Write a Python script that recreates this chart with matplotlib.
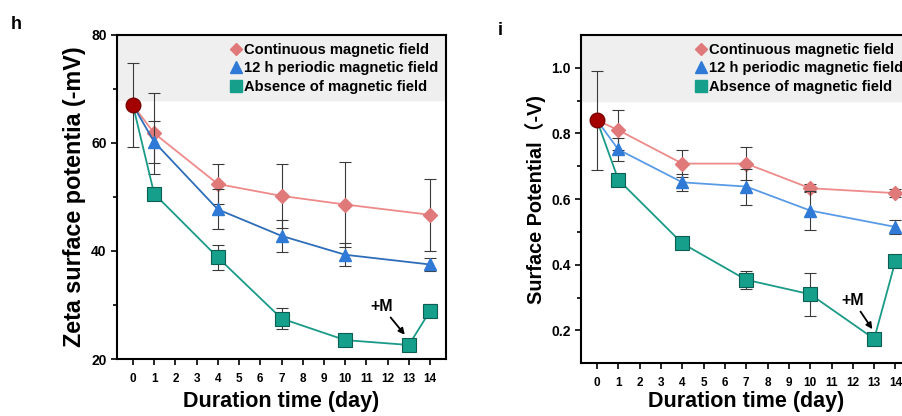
import matplotlib
matplotlib.use('Agg')
import matplotlib.pyplot as plt
from matplotlib.lines import Line2D

plt.rcParams['font.family'] = ['Liberation Sans', 'Noto Sans CJK SC', 'DejaVu Sans']
plt.rcParams['font.weight'] = 'bold'

# day 0 shared starting point
start_h = 67.0
start_h_err = 7.8
start_i = 0.84
start_i_err = 0.15

# panel h: zeta surface potential (-mV)
days_cont = [0, 1, 4, 7, 10, 14]
days_abs = [0, 1, 4, 7, 10, 13, 14]
h_cont = [67.0, 61.8, 52.4, 50.2, 48.6, 46.7]
h_cont_err = [0, 7.5, 3.7, 5.9, 7.8, 6.7]
h_per = [67.0, 60.2, 47.7, 42.8, 39.3, 37.5]
h_per_err = [0, 3.9, 3.7, 3.0, 2.1, 1.2]
h_abs = [67.0, 50.6, 38.8, 27.5, 23.5, 22.6, 28.9]
h_abs_err = [0, 0.9, 2.3, 1.9, 1.0, 0.8, 1.2]

# panel i: surface potential (-V)
i_cont = [0.84, 0.81, 0.708, 0.708, 0.633, 0.618]
i_cont_err = [0, 0.062, 0.04, 0.05, 0.012, 0.012]
i_per = [0.84, 0.751, 0.651, 0.638, 0.565, 0.515]
i_per_err = [0, 0.035, 0.025, 0.055, 0.06, 0.022]
i_abs = [0.84, 0.659, 0.465, 0.354, 0.31, 0.174, 0.412]
i_abs_err = [0, 0.008, 0.008, 0.027, 0.065, 0.01, 0.015]

labels = ['Continuous magnetic field', '12 h periodic magnetic field', 'Absence of magnetic field']
day_ticks = list(range(15))

fig = plt.figure(figsize=(9.03, 4.16), dpi=100)
ax1 = fig.add_axes([0.1296, 0.137, 0.3643, 0.779])
ax2 = fig.add_axes([0.6434, 0.127, 0.366, 0.789])


def draw(ax, cont, cont_err, per, per_err, absn, absn_err, start, start_err,
         per_color, band, ylim, yticks, minor, ylabel, ylsize, xpad, m_text, m_tip):
    ax.axhspan(band, ylim[1], color='#efefef', zorder=0)
    ekw = dict(ecolor='#3a3a3a', elinewidth=0.8, capsize=4, capthick=0.8)
    ax.errorbar(days_cont, cont, yerr=cont_err, color='#ee8a8a', lw=1.3,
                marker='D', ms=7.5, mfc='#e07a7a', mec='#e07a7a', markevery=slice(1, None),
                zorder=3, **ekw)
    ax.errorbar(days_cont, per, yerr=per_err, color=per_color, lw=1.3,
                marker='^', ms=9, mfc='#2f7ad6', mec='#2f7ad6', markevery=slice(1, None),
                zorder=4, **ekw)
    ax.errorbar(days_abs, absn, yerr=absn_err, color='#1b9a88', lw=1.3,
                marker='s', ms=10, mfc='#16a08c', mec='#0c5e52', mew=0.8,
                markevery=slice(1, None), zorder=5, **ekw)
    ax.errorbar([0], [start], yerr=[start_err], fmt='o', ms=10.5, mfc='#a50000',
                mec='#7a0000', zorder=6, **ekw)
    ax.set_xlim(-0.75, 14.75)
    ax.set_ylim(*ylim)
    ax.set_xticks(day_ticks)
    ax.set_yticks(yticks)
    ax.set_yticks(minor, minor=True)
    ax.tick_params(axis='x', labelsize=8.5, length=4, width=1.2, pad=6)
    ax.tick_params(axis='y', labelsize=10, length=4, width=1.2)
    ax.tick_params(axis='y', which='minor', length=3, width=1.2)
    for s in ax.spines.values():
        s.set_linewidth(1.5)
    ax.set_xlabel('Duration time (day)', fontsize=15.5, fontweight='bold', labelpad=xpad)
    ax.set_ylabel(ylabel, fontsize=ylsize, fontweight='bold', labelpad=4)
    ax.annotate('+M', xy=m_tip, xytext=m_text, fontsize=11.5, fontweight='bold',
                ha='center', va='center',
                arrowprops=dict(arrowstyle='-|>', mutation_scale=9, color='black', lw=1.3,
                                shrinkA=1, shrinkB=1))
    handles = [
        Line2D([], [], ls='none', marker='D', ms=6.5, color='#e07a7a'),
        Line2D([], [], ls='none', marker='^', ms=8, color='#2f7ad6'),
        Line2D([], [], ls='none', marker='s', ms=8, color='#16a08c'),
    ]
    ax.legend(handles, labels, loc='upper right', frameon=False,
              handlelength=0.7, handletextpad=0.2, borderaxespad=0.35,
              labelspacing=0.3, borderpad=0.2, prop={'weight': 'bold', 'size': 10.6})


draw(ax1, h_cont, h_cont_err, h_per, h_per_err, h_abs, h_abs_err, start_h, start_h_err,
     '#2e6db8', 68, (20, 80), [20, 40, 60, 80], [30, 50, 70],
     'Zeta surface potentia (-mV)', 16.8, 4.5, (11.7, 29.8), (12.85, 24.3))
draw(ax2, i_cont, i_cont_err, i_per, i_per_err, i_abs, i_abs_err, start_i, start_i_err,
     '#5a9be6', 0.9, (0.1, 1.1), [0.2, 0.4, 0.6, 0.8, 1.0], [0.3, 0.5, 0.7, 0.9],
     'Surface Potential（-V)', 14.3, 1.5, (12.0, 0.292), (12.95, 0.2))
ax2.set_yticklabels(['0.2', '0.4', '0.6', '0.8', '1.0'])

fig.text(0.012, 0.93, 'h', fontsize=13, fontweight='bold')
fig.text(0.551, 0.915, 'i', fontsize=13, fontweight='bold')

fig.savefig('out.png', dpi=100)
